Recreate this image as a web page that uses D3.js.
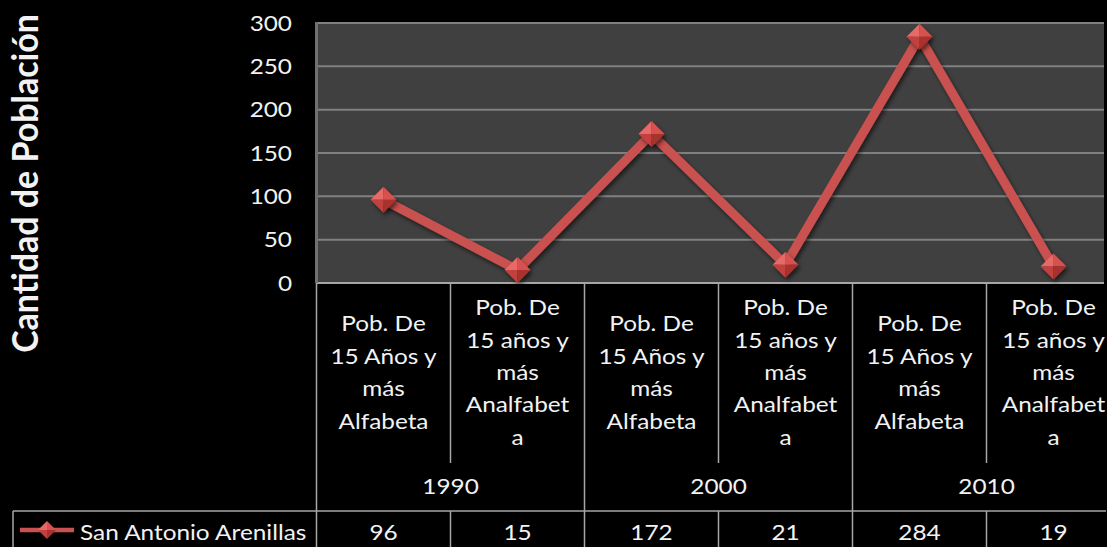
<!DOCTYPE html>
<html>
<head>
<meta charset="utf-8">
<script src="https://cdn.jsdelivr.net/npm/d3@7"></script>
<style>
  html, body { margin: 0; padding: 0; background: #000; overflow: hidden; }
  text { font-family: Lato, "Open Sans", sans-serif; fill: #f2f2f2; }
</style>
</head>
<body>
<svg id="chart" width="1107" height="547"></svg>
<script>
// ---- data ----
const categoryLabels = [
  ["Pob. De", "15 Años y", "más", "Alfabeta"],
  ["Pob. De", "15 años y", "más", "Analfabet", "a"],
  ["Pob. De", "15 Años y", "más", "Alfabeta"],
  ["Pob. De", "15 años y", "más", "Analfabet", "a"],
  ["Pob. De", "15 Años y", "más", "Alfabeta"],
  ["Pob. De", "15 años y", "más", "Analfabet", "a"]
];
const years = ["1990", "2000", "2010"];
const seriesName = "San Antonio Arenillas";
const values = [96, 15, 172, 21, 284, 19];
const yTicks = [0, 50, 100, 150, 200, 250, 300];
const yTitle = "Cantidad de Población";

// ---- layout ----
const plot = { left: 316.5, top: 23, bottom: 283, right: 1120.5, visibleRight: 1104 };
const table = { labelBottom: 463, yearBottom: 511, bottom: 547, legendLeft: 13 };
const sx = 1.2;             // horizontal stretch of the label text
const fontSize = 20.3;
const lineColor = "#c9514f";

const svg = d3.select("#chart");
const defs = svg.append("defs");

const shadow = defs.append("filter").attr("id", "shadow")
  .attr("x", "-20%").attr("y", "-20%").attr("width", "140%").attr("height", "140%");
shadow.append("feDropShadow").attr("dx", 2).attr("dy", 3).attr("stdDeviation", 2)
  .attr("flood-color", "#000").attr("flood-opacity", 0.55);

const x = d3.scaleBand().domain(d3.range(values.length)).range([plot.left, plot.right]).padding(0);
const y = d3.scaleLinear().domain([0, 300]).range([plot.bottom, plot.top]);
const cx = i => x(i) + x.bandwidth() / 2;

// plot background
svg.append("rect")
  .attr("x", plot.left).attr("y", plot.top)
  .attr("width", plot.visibleRight - plot.left).attr("height", plot.bottom - plot.top)
  .attr("fill", "#404040");

// horizontal gridlines
svg.append("g").selectAll("line").data(yTicks).join("line")
  .attr("x1", plot.left).attr("x2", plot.visibleRight)
  .attr("y1", d => y(d)).attr("y2", d => y(d))
  .attr("stroke", d => d === 0 ? "#a6a6a6" : "#808080")
  .attr("stroke-width", 2);

// left border of the plot
svg.append("line")
  .attr("x1", plot.left).attr("x2", plot.left)
  .attr("y1", plot.top - 1).attr("y2", plot.bottom)
  .attr("stroke", "#707070").attr("stroke-width", 3);

// y axis labels
const yAxis = svg.append("g")
  .attr("transform", "translate(292,0)")
  .call(d3.axisLeft(y).tickValues(yTicks).tickSize(0).tickPadding(0));
yAxis.select(".domain").remove();
yAxis.selectAll("text")
  .attr("fill", "#f2f2f2")
  .style("font-family", "Lato, 'Open Sans', sans-serif")
  .style("font-size", fontSize + "px")
  .attr("dy", "0.36em")
  .attr("transform", `scale(${sx},1)`);

// y axis title
svg.append("text")
  .attr("transform", `translate(38,${(15 + 352) / 2}) rotate(-90) scale(1,1.06)`)
  .attr("text-anchor", "middle")
  .style("font-size", "34px")
  .style("font-weight", "bold")
  .text(yTitle);

// ---- data table below the plot ----
const tableG = svg.append("g").attr("stroke", "#a6a6a6").attr("stroke-width", 1.5);
const boundaries = d3.range(values.length + 1).map(i => i < values.length ? x(i) : plot.right);
boundaries.forEach((bx, i) => {
  if (i % 2 === 1) {
    // boundary inside a year group: interrupted by the year row
    tableG.append("line").attr("x1", bx).attr("x2", bx)
      .attr("y1", plot.bottom).attr("y2", table.labelBottom);
    tableG.append("line").attr("x1", bx).attr("x2", bx)
      .attr("y1", table.yearBottom).attr("y2", table.bottom);
  } else {
    tableG.append("line").attr("x1", bx).attr("x2", bx)
      .attr("y1", plot.bottom).attr("y2", table.bottom);
  }
});
tableG.append("line")
  .attr("x1", table.legendLeft).attr("x2", plot.visibleRight + 2)
  .attr("y1", table.yearBottom).attr("y2", table.yearBottom);
tableG.append("line")
  .attr("x1", table.legendLeft).attr("x2", table.legendLeft)
  .attr("y1", table.yearBottom).attr("y2", table.bottom);

// category labels (multi-line)
const lineH = 32.4;
const labelMid = 373;
const catG = svg.append("g").style("font-size", fontSize + "px");
categoryLabels.forEach((lines, i) => {
  const first = labelMid - (lines.length - 1) * lineH / 2;
  lines.forEach((ln, k) => {
    catG.append("text")
      .attr("transform", `translate(${cx(i)},${first + k * lineH + 7}) scale(${sx},1)`)
      .attr("text-anchor", "middle")
      .text(ln);
  });
});

// year labels
svg.append("g").style("font-size", fontSize + "px")
  .selectAll("text").data(years).join("text")
  .attr("transform", (d, j) => `translate(${x(2 * j + 1)},${(table.labelBottom + table.yearBottom) / 2 + 7}) scale(${sx},1)`)
  .attr("text-anchor", "middle")
  .text(d => d);

// value row
svg.append("g").style("font-size", fontSize + "px")
  .selectAll("text").data(values).join("text")
  .attr("transform", (d, i) => `translate(${cx(i)},540) scale(${sx},1)`)
  .attr("text-anchor", "middle")
  .text(d => d);

// ---- diamond marker (four shaded facets) ----
function diamond(g, r) {
  const facets = [
    { pts: [[0, -r], [-r, 0], [0, 0]], fill: "#e56a67" },
    { pts: [[0, -r], [r, 0], [0, 0]], fill: "#d8514f" },
    { pts: [[-r, 0], [0, r], [0, 0]], fill: "#c23f3d" },
    { pts: [[r, 0], [0, r], [0, 0]], fill: "#a8302f" }
  ];
  g.selectAll("path").data(facets).join("path")
    .attr("d", f => "M" + f.pts.map(p => p.join(",")).join("L") + "Z")
    .attr("fill", f => f.fill);
}

// series line
const line = d3.line().x((d, i) => cx(i)).y(d => y(d));
svg.append("path")
  .datum(values)
  .attr("d", line)
  .attr("fill", "none")
  .attr("stroke", lineColor)
  .attr("stroke-width", 9)
  .attr("stroke-linejoin", "round")
  .attr("filter", "url(#shadow)");

svg.append("g").attr("filter", "url(#shadow)")
  .selectAll("g").data(values).join("g")
  .attr("transform", (d, i) => `translate(${cx(i)},${y(d)})`)
  .each(function () { diamond(d3.select(this), 13); });

// legend key
const key = svg.append("g").attr("transform", "translate(47,530)");
key.append("line").attr("x1", -27).attr("x2", 27).attr("y1", 0).attr("y2", 0)
  .attr("stroke", lineColor).attr("stroke-width", 4.5);
diamond(key.append("g"), 9);
svg.append("text")
  .attr("transform", `translate(80,540) scale(${sx},1)`)
  .style("font-size", fontSize + "px")
  .text(seriesName);
</script>
</body>
</html>
